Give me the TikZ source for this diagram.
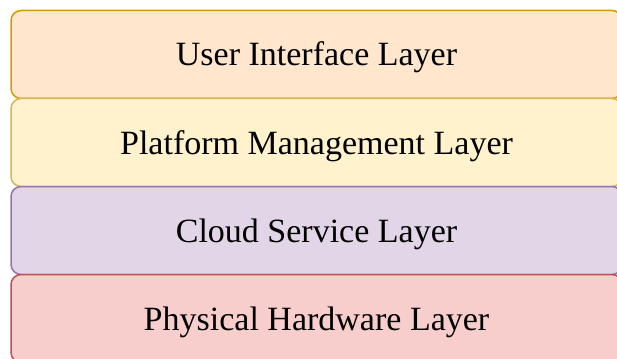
\documentclass[tikz,border=0pt]{standalone}
\usepackage{fontspec}
\setmainfont{Liberation Serif}
\definecolor{uiFill}{HTML}{FFE6CC}\definecolor{uiLine}{HTML}{D79B00}
\definecolor{pmFill}{HTML}{FFF2CC}\definecolor{pmLine}{HTML}{D6B656}
\definecolor{csFill}{HTML}{E1D5E7}\definecolor{csLine}{HTML}{9673A6}
\definecolor{hwFill}{HTML}{F8CECC}\definecolor{hwLine}{HTML}{B85450}
\tikzset{
  layer/.style={rectangle, rounded corners=10pt, line width=1.5pt,
    minimum width=611pt, minimum height=88pt, inner sep=0pt,
    text height=23pt, text depth=0pt,
    font=\fontsize{34}{40}\selectfont, text=black},
}
\begin{document}
\begin{tikzpicture}[x=1pt,y=-1pt]
\useasboundingbox (0,0) rectangle (617,358);
\node[layer, draw=uiLine, fill=uiFill] (ui) at (316.5,54.5) {User Interface Layer};
\node[layer, draw=pmLine, fill=pmFill] (pm) at (316.5,142.5) {Platform Management Layer};
\node[layer, draw=csLine, fill=csFill] (cs) at (316.5,230.5) {Cloud Service Layer};
\node[layer, draw=hwLine, fill=hwFill] (hw) at (316.5,318.5) {Physical Hardware Layer};
\end{tikzpicture}
\end{document}
